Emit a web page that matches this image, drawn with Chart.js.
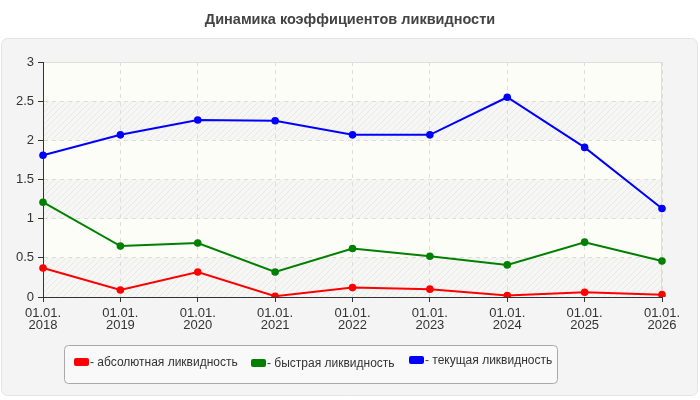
<!DOCTYPE html>
<html>
<head>
<meta charset="utf-8">
<script src="https://cdn.jsdelivr.net/npm/chart.js@4.4.1/dist/chart.umd.min.js"></script>
<style>
  html, body { margin: 0; padding: 0; background: #fff; }
  #wrap { width: 700px; height: 400px; position: relative; }
</style>
</head>
<body>
<div id="wrap"><canvas id="chart"></canvas></div>
<script>
(function() {
    'use strict';

    // ===== DATA =====
    const chartTitle = 'Динамика коэффициентов ликвидности';
    const years = ['2018', '2019', '2020', '2021', '2022', '2023', '2024', '2025', '2026'];
    const seriesNames = ['- абсолютная ликвидность', '- быстрая ликвидность', '- текущая ликвидность'];
    const absoluteLiq = [0.37, 0.09, 0.32, 0.01, 0.12, 0.10, 0.02, 0.06, 0.03];
    const quickLiq = [1.21, 0.65, 0.69, 0.32, 0.62, 0.52, 0.41, 0.70, 0.46];
    const currentLiq = [1.81, 2.07, 2.26, 2.25, 2.07, 2.07, 2.55, 1.91, 1.13];
    const yTicks = [0, 0.5, 1, 1.5, 2, 2.5, 3];

    const labels = years.map(y => ['01.01.', y]);
    const FONT = 'Arial, "Liberation Sans", sans-serif';

    // hatch pattern for alternating bands
    function makeHatch(ctx) {
        const c = document.createElement('canvas');
        c.width = 6; c.height = 6;
        const g = c.getContext('2d');
        g.fillStyle = '#f6f6f4';
        g.fillRect(0, 0, 6, 6);
        g.strokeStyle = '#e9e9e7';
        g.lineWidth = 1;
        g.beginPath();
        g.moveTo(0, 6); g.lineTo(6, 0);
        g.moveTo(-3, 3); g.lineTo(3, -3);
        g.moveTo(3, 9); g.lineTo(9, 3);
        g.stroke();
        return ctx.createPattern(c, 'repeat');
    }

    // ===== PLUGINS =====
    const panelPlugin = {
        id: 'panel',
        beforeDraw(chart) {
            const ctx = chart.ctx;
            ctx.save();
            ctx.fillStyle = '#ffffff';
            ctx.fillRect(0, 0, chart.width, chart.height);

            // title
            ctx.fillStyle = '#444444';
            ctx.font = 'bold 14.5px ' + FONT;
            ctx.textAlign = 'center';
            ctx.textBaseline = 'middle';
            ctx.fillText(chartTitle, 350, 20);

            // outer panel
            ctx.beginPath();
            ctx.roundRect(1.5, 38.5, 696, 357, 6);
            ctx.fillStyle = '#f4f4f4';
            ctx.fill();
            ctx.strokeStyle = '#e4e4e4';
            ctx.lineWidth = 1;
            ctx.stroke();

            // plot background with bands
            const a = chart.chartArea;
            const ys = chart.scales.y;
            ctx.fillStyle = '#fdfdf7';
            ctx.fillRect(a.left, a.top, a.right - a.left, a.bottom - a.top);
            ctx.fillStyle = makeHatch(ctx);
            for (let i = 0; i < yTicks.length - 1; i += 2) {
                const top = ys.getPixelForValue(yTicks[i + 1]);
                const bot = ys.getPixelForValue(yTicks[i]);
                ctx.fillRect(a.left, top, a.right - a.left, bot - top);
            }
            ctx.strokeStyle = '#dedede';
            ctx.strokeRect(a.left + 0.5, a.top + 0.5, a.right - a.left - 1, a.bottom - a.top);

            // legend frame + items
            ctx.beginPath();
            ctx.roundRect(64.5, 345.5, 493, 38, 4);
            ctx.fillStyle = '#f9f9f9';
            ctx.fill();
            ctx.strokeStyle = '#a9a9a9';
            ctx.stroke();

            const itemX = [74, 251, 409];
            const itemY = [362, 363, 360];
            ctx.font = '12px ' + FONT;
            ctx.textAlign = 'left';
            ctx.textBaseline = 'middle';
            chart.data.datasets.forEach((d, i) => {
                ctx.beginPath();
                ctx.roundRect(itemX[i], itemY[i] - 4, 15, 8, 2);
                ctx.fillStyle = d.borderColor;
                ctx.fill();
                ctx.fillStyle = '#333333';
                ctx.fillText(d.label, itemX[i] + 16, itemY[i] + 1);
            });
            ctx.restore();
        }
    };

    const gridOpts = {
        color: '#dddddd',
        tickColor: '#333333',
        tickLength: 5,
        tickBorderDash: []
    };

    const ctx = document.getElementById('chart').getContext('2d');
    new Chart(ctx, {
        type: 'line',
        data: {
            labels: labels,
            datasets: [
                { label: seriesNames[0], data: absoluteLiq, borderColor: '#ff0000', backgroundColor: '#ff0000' },
                { label: seriesNames[1], data: quickLiq, borderColor: '#008000', backgroundColor: '#008000' },
                { label: seriesNames[2], data: currentLiq, borderColor: '#0000ff', backgroundColor: '#0000ff' }
            ]
        },
        options: {
            responsive: true,
            maintainAspectRatio: false,
            animation: false,
            devicePixelRatio: 1,
            layout: { padding: { left: 0, right: 38, top: 62, bottom: 63 } },
            elements: {
                line: { borderWidth: 2, tension: 0 },
                point: { radius: 3.8, borderWidth: 0, hoverRadius: 4 }
            },
            plugins: {
                title: { display: false },
                legend: { display: false },
                tooltip: { enabled: false }
            },
            scales: {
                x: {
                    offset: false,
                    afterFit(s) { s.height = 40; },
                    grid: gridOpts,
                    border: { color: '#333333', width: 1, dash: [4, 4] },
                    ticks: {
                        color: '#333333',
                        maxRotation: 0,
                        autoSkip: false,
                        padding: 5,
                        font: { family: FONT, size: 13, lineHeight: 0.92 }
                    }
                },
                y: {
                    min: 0,
                    max: 3,
                    afterFit(s) { s.width = 43; },
                    afterBuildTicks(s) { s.ticks = yTicks.map(v => ({ value: v })); },
                    grid: gridOpts,
                    border: { color: '#333333', width: 1, dash: [4, 4] },
                    ticks: {
                        color: '#333333',
                        padding: 4,
                        font: { family: FONT, size: 13 },
                        callback: v => String(v)
                    }
                }
            }
        },
        plugins: [panelPlugin]
    });
})();
</script>
</body>
</html>
